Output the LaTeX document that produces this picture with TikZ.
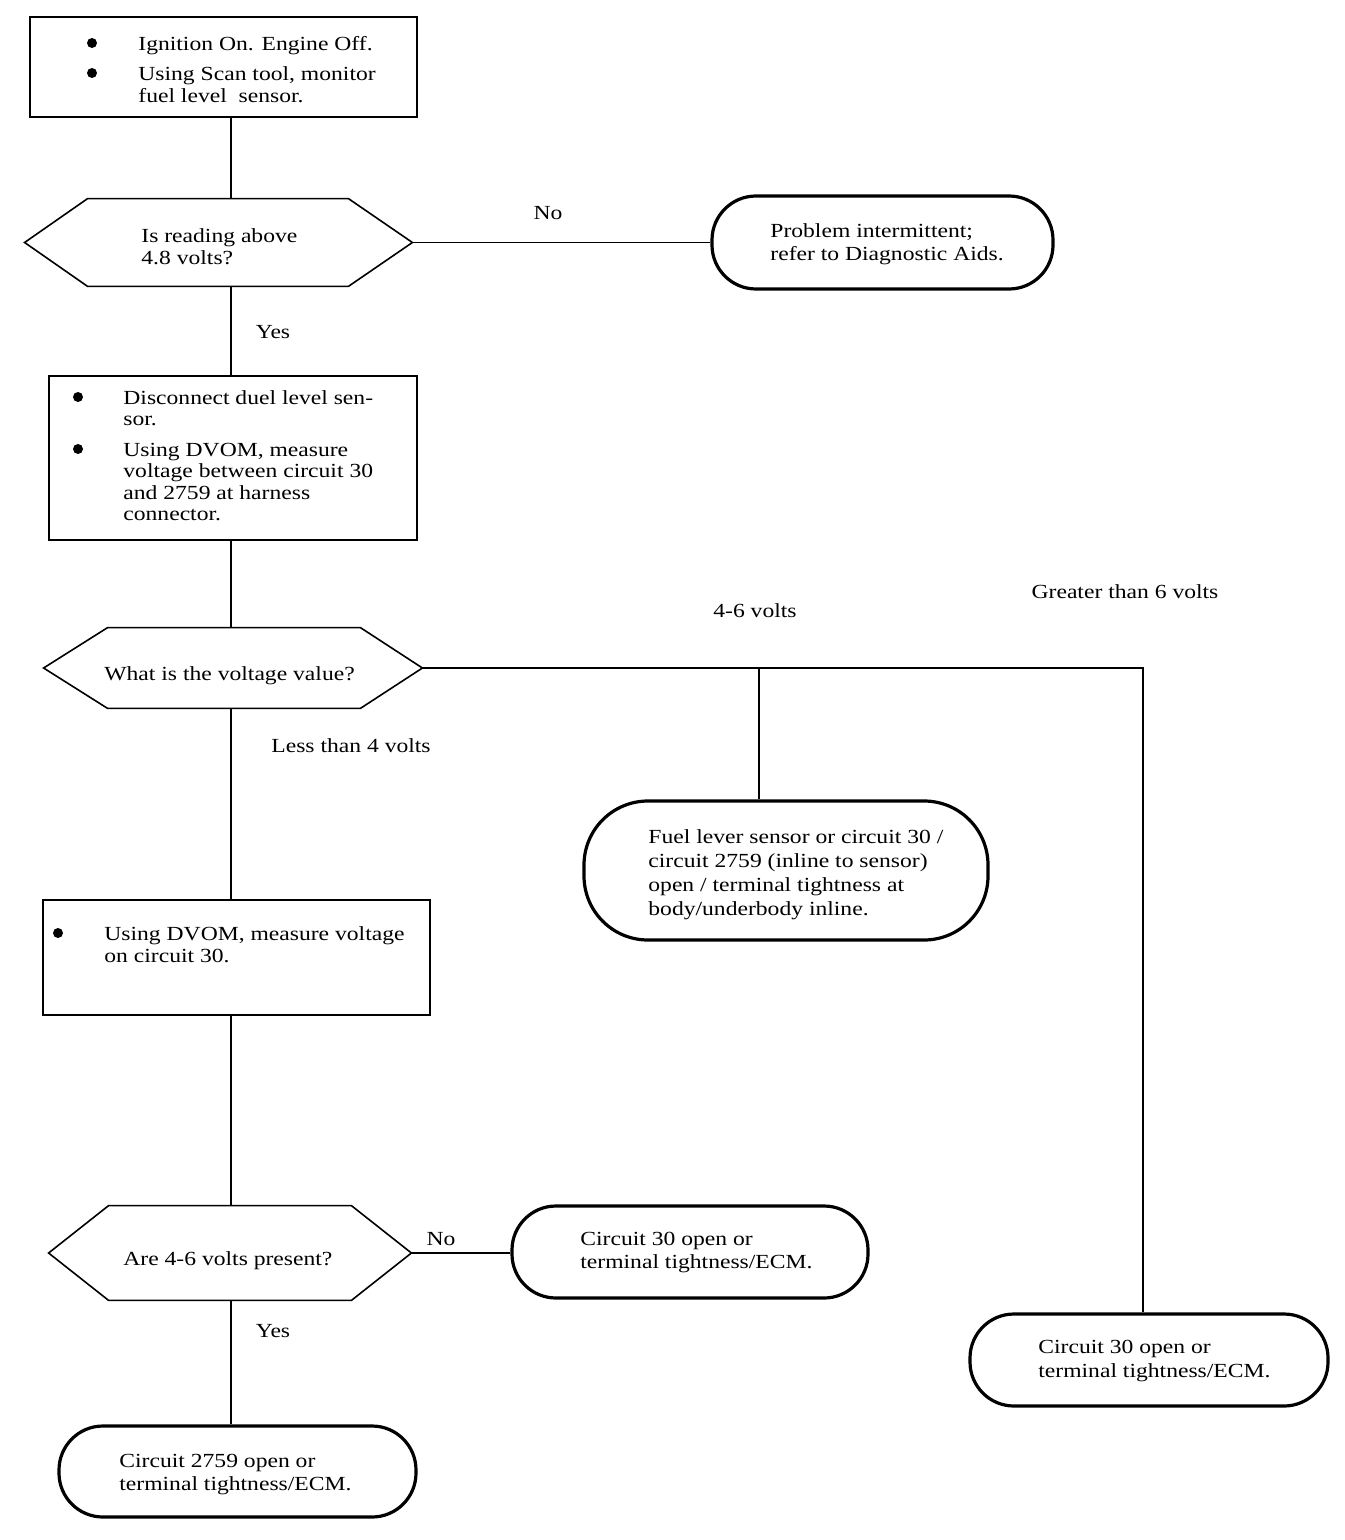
\documentclass[tikz,border=0pt]{standalone}
\usepackage{fontspec}
\setmainfont{Liberation Serif}[FakeStretch=1.18]
\usetikzlibrary{calc}
\newcommand\hexoutline[3]{\draw[hexline] (#1.west) -- ([xshift=#2]#1.north west) -- ([xshift=-#3]#1.north east) -- (#1.east) -- ([xshift=-#3]#1.south east) -- ([xshift=#2]#1.south west) -- cycle;}
\begin{document}
\begin{tikzpicture}[x=0.5pt,y=-0.5pt,
  procbox/.style={draw, line width=1pt, inner sep=0pt},
  hexnode/.style={inner sep=0pt},
  hexline/.style={line width=0.8pt, line join=miter},
  term/.style={draw, line width=1.6pt, inner sep=0pt},
  conn/.style={line width=0.8pt},
  bul/.style={circle, fill, inner sep=0pt, minimum size=5pt},
  txt/.style={anchor=base west, inner sep=0pt, align=left, font=\fontsize{10}{11}\selectfont},
  lbl/.style={anchor=base, inner sep=0pt, font=\fontsize{10}{11}\selectfont}]
\useasboundingbox (0,0) rectangle (1344,1540);
\coordinate (sp) at (231,0);
\coordinate (mid) at (759,0);
\coordinate (gr) at (1143,0);

% process boxes
\node[procbox, minimum width=193.5pt, minimum height=50pt] (b1) at (223.5,67) {};
\node[procbox, minimum width=184pt, minimum height=82pt] (b2) at (233,458) {};
\node[procbox, minimum width=193.5pt, minimum height=57.5pt] (b3) at (236.5,957.5) {};

% decision hexagons
\node[hexnode, minimum width=193.5pt, minimum height=43.5pt] (h1) at (218.5,242.5) {};
\hexoutline{h1}{31.5pt}{32pt}
\node[hexnode, minimum width=189pt, minimum height=40pt] (h2) at (233,668) {};
\hexoutline{h2}{32pt}{31pt}
\node[hexnode, minimum width=181pt, minimum height=47pt] (h3) at (230,1253) {};
\hexoutline{h3}{30pt}{30pt}

% terminals
\node[term, rounded corners=22pt, minimum width=170.5pt, minimum height=46.5pt] (t1) at (882.5,242.5) {};
\node[term, rounded corners=32pt, minimum width=202pt, minimum height=69.5pt] (t2) at (786,870.5) {};
\node[term, rounded corners=22pt, minimum width=178pt, minimum height=46pt] (t3) at (690,1252) {};
\node[term, rounded corners=22pt, minimum width=179pt, minimum height=46pt] (t4) at (1149,1360) {};
\node[term, rounded corners=22pt, minimum width=178.5pt, minimum height=45.5pt] (t5) at (237.5,1471.5) {};

% connectors
\draw[conn] (b1.south -| sp) -- (h1.north -| sp);
\draw[conn] (h1.east) -- (t1.west |- h1.east);
\draw[conn] (h1.south -| sp) -- (b2.north -| sp);
\draw[conn] (b2.south -| sp) -- (h2.north -| sp);
\draw[conn] (h2.east) -- (h2.east -| gr) -- (t4.north -| gr);
\draw[conn] (h2.east -| mid) -- (t2.north -| mid);
\draw[conn] (h2.south -| sp) -- (b3.north -| sp);
\draw[conn] (b3.south -| sp) -- (h3.north -| sp);
\draw[conn] (h3.east) -- (t3.west |- h3.east);
\draw[conn] (h3.south -| sp) -- (t5.north -| sp);

% bullets
\node[bul] (bu1) at (92,43) {};
\node[bul] (bu2) at (92,73) {};
\node[bul] (bu3) at (78,397) {};
\node[bul] (bu4) at (78,449) {};
\node[bul] (bu5) at (58,933) {};

% texts in boxes (multi-line nodes: base = last line)
\node[txt] (x1) at (138,51) {Ignition On. Engine Off.};
\node[txt] (x2) at (138,103) {Using Scan tool, monitor\\fuel level\ \ sensor.};
\node[txt, font=\fontsize{10}{10.75}\selectfont] (x3) at (123,425.5) {Disconnect duel level sen-\\sor.};
\node[txt, font=\fontsize{10}{10.75}\selectfont] (x4) at (123,520.5) {Using DVOM, measure\\voltage between circuit 30\\and 2759 at harness\\connector.};
\node[txt] (x5) at (104,962) {Using DVOM, measure voltage\\on circuit 30.};

% texts in decisions
\node[txt] (y1) at (141,265) {Is reading above\\4.8 volts?};
\node[txt] (y2) at (104,680) {What is the voltage value?};
\node[txt] (y3) at (123,1265) {Are 4-6 volts present?};

% texts in terminals
\node[txt, font=\fontsize{10}{11.5}\selectfont] (z1) at (770,261) {Problem intermittent;\\refer to Diagnostic Aids.};
\node[txt, font=\fontsize{10}{12}\selectfont] (z2) at (648,915) {Fuel lever sensor or circuit 30 /\\circuit 2759 (inline to sensor)\\open / terminal tightness at\\body/underbody inline.};
\node[txt, font=\fontsize{10}{11.5}\selectfont] (z3) at (580,1268) {Circuit 30 open or\\terminal tightness/ECM.};
\node[txt, font=\fontsize{10}{12}\selectfont] (z4) at (1038,1377) {Circuit 30 open or\\terminal tightness/ECM.};
\node[txt, font=\fontsize{10}{11.5}\selectfont] (z5) at (119,1490) {Circuit 2759 open or\\terminal tightness/ECM.};

% connector labels
\node[lbl] (l1) at (548,220) {No};
\node[lbl] (l2) at (273,338) {Yes};
\node[lbl] (l3) at (755,617) {4-6 volts};
\node[lbl] (l4) at (1125,598) {Greater than 6 volts};
\node[lbl] (l5) at (351,752) {Less than 4 volts};
\node[lbl] (l6) at (441,1245) {No};
\node[lbl] (l7) at (273,1337) {Yes};
\end{tikzpicture}
\end{document}
